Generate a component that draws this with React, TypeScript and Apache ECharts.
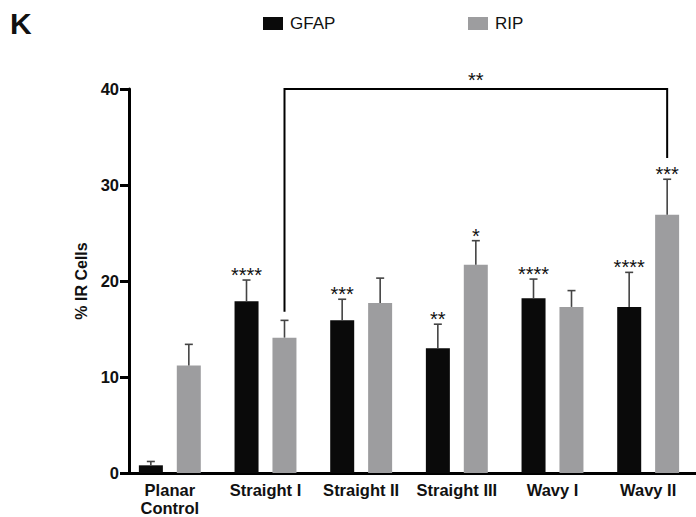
import React, { useEffect, useRef } from "react";
import * as echarts from "echarts";

const categories = ["Planar\nControl", "Straight I", "Straight II", "Straight III", "Wavy I", "Wavy II"];
const gfapValues = [0.8, 17.9, 15.9, 13.0, 18.2, 17.3];
const gfapErrors = [0.4, 2.2, 2.2, 2.5, 2.0, 3.6];
const gfapStars = ["", "****", "***", "**", "****", "****"];
const ripValues = [11.2, 14.1, 17.7, 21.7, 17.3, 26.9];
const ripErrors = [2.2, 1.8, 2.6, 2.5, 1.7, 3.7];
const ripStars = ["", "", "", "*", "", "***"];
const yTicks = [0, 10, 20, 30, 40];
const bracketFrom = 1;
const bracketTo = 5;
const bracketLeftEnd = 16.8;
const bracketRightEnd = 32.8;
const bracketTop = 40;
const bracketLabel = "**";

const FONT = "'Liberation Sans', Arial, Helvetica, sans-serif";
const BAR_OFFSET = 19;
const ERR_COLOR = "#444";
const STAR_SIZE = 20;

function makeErrRender(offset: number, stars: string[]) {
  return (params: any, api: any) => {
    const i = api.value(0);
    const v = api.value(1);
    const e = api.value(2);
    const base = api.coord([i, v]);
    const top = api.coord([i, v + e]);
    const x = base[0] + offset;
    const children: any[] = [
      { type: "line", shape: { x1: x, y1: base[1], x2: x, y2: top[1] }, style: { stroke: ERR_COLOR, lineWidth: 1.6 } },
      { type: "line", shape: { x1: x - 4, y1: top[1], x2: x + 4, y2: top[1] }, style: { stroke: ERR_COLOR, lineWidth: 1.6 } },
    ];
    if (stars[i]) {
      children.push({
        type: "text",
        x,
        y: top[1] - 5,
        style: { text: stars[i], align: "center", verticalAlign: "middle", fontSize: STAR_SIZE, fontFamily: FONT, fill: "#111" },
      });
    }
    return { type: "group", children };
  };
}

export default function App() {
  const ref = useRef<HTMLDivElement>(null);
  useEffect(() => {
    if (!ref.current) return;
    const chart = echarts.init(ref.current, null, { renderer: "svg" });
    chart.setOption({
      animation: false,
      title: {
        text: "K",
        left: 5,
        top: 3,
        textStyle: { fontSize: 30, fontWeight: "bold", fontFamily: FONT, color: "#111" },
      },
      legend: [
        {
          data: [{ name: "GFAP", icon: "rect" }],
          left: 258,
          top: 10,
          itemWidth: 20,
          itemHeight: 13,
          textStyle: { fontSize: 17, fontFamily: FONT, color: "#111", padding: [0, 0, 0, 2] },
          selectedMode: false,
        },
        {
          data: [{ name: "RIP", icon: "rect" }],
          left: 463,
          top: 10,
          itemWidth: 20,
          itemHeight: 13,
          textStyle: { fontSize: 17, fontFamily: FONT, color: "#111", padding: [0, 0, 0, 2] },
          selectedMode: false,
        },
      ],
      grid: { left: 122, top: 89, width: 589, height: 384, containLabel: false },
      xAxis: {
        type: "category",
        data: categories,
        axisLine: { lineStyle: { color: "#000", width: 3 } },
        axisTick: { alignWithLabel: true, length: 5, lineStyle: { color: "#000", width: 3 } },
        axisLabel: { fontSize: 16.5, fontWeight: "bold", fontFamily: FONT, color: "#111", margin: 8, lineHeight: 18, interval: 0 },
        splitLine: { show: false },
      },
      yAxis: {
        type: "value",
        min: yTicks[0],
        max: yTicks[yTicks.length - 1],
        interval: 10,
        offset: -7,
        name: "% IR Cells",
        nameLocation: "middle",
        nameRotate: 90,
        nameGap: 40,
        nameTextStyle: { fontSize: 16, fontWeight: "bold", fontFamily: FONT, color: "#111" },
        axisLine: { show: true, lineStyle: { color: "#000", width: 3 } },
        axisTick: { show: true, length: 9, lineStyle: { color: "#000", width: 3 } },
        axisLabel: { fontSize: 16.5, fontWeight: "bold", fontFamily: FONT, color: "#111", margin: 10 },
        splitLine: { show: false },
      },
      series: [
        {
          name: "GFAP",
          type: "bar",
          data: gfapValues,
          barWidth: 24,
          barGap: "58%",
          itemStyle: { color: "#0a0a0a" },
        },
        {
          name: "RIP",
          type: "bar",
          data: ripValues,
          barWidth: 24,
          itemStyle: { color: "#9d9d9f" },
        },
        {
          type: "custom",
          data: gfapValues.map((v, i) => [i, v, gfapErrors[i]]),
          encode: { x: 0, y: 1 },
          renderItem: makeErrRender(-BAR_OFFSET, gfapStars),
          z: 3,
          clip: false,
        },
        {
          type: "custom",
          data: ripValues.map((v, i) => [i, v, ripErrors[i]]),
          encode: { x: 0, y: 1 },
          renderItem: makeErrRender(BAR_OFFSET, ripStars),
          z: 3,
          clip: false,
        },
        {
          type: "custom",
          data: [[bracketFrom, bracketLeftEnd, bracketTo, bracketRightEnd, bracketTop]],
          encode: { x: 0, y: 1 },
          clip: false,
          z: 4,
          renderItem: (params: any, api: any) => {
            const a = api.coord([api.value(0), api.value(1)]);
            const b = api.coord([api.value(2), api.value(3)]);
            const t = api.coord([api.value(0), api.value(4)]);
            const xa = a[0] + BAR_OFFSET;
            const xb = b[0] + BAR_OFFSET;
            return {
              type: "group",
              children: [
                {
                  type: "polyline",
                  shape: { points: [[xa, a[1]], [xa, t[1]], [xb, t[1]], [xb, b[1]]] },
                  style: { stroke: "#000", lineWidth: 2, fill: null },
                },
                {
                  type: "text",
                  x: (xa + xb) / 2,
                  y: t[1] - 9,
                  style: { text: bracketLabel, align: "center", verticalAlign: "middle", fontSize: STAR_SIZE, fontFamily: FONT, fill: "#111" },
                },
              ],
            };
          },
        },
      ],
    });
    return () => chart.dispose();
  }, []);
  return <div ref={ref} style={{ width: 696, height: 517, position: "absolute", left: 0, top: 0 }} />;
}
